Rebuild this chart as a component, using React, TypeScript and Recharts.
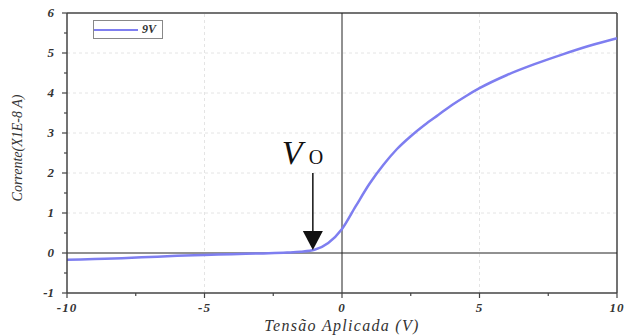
import { LineChart, Line, XAxis, YAxis, ReferenceLine, ReferenceDot, Legend } from "recharts";

const voltage = [-10, -9, -8, -7, -6, -5, -4, -3, -2, -1.5, -1, -0.5, 0, 0.5, 1, 1.5, 2, 2.5, 3, 3.5, 4, 4.5, 5, 6, 7, 8, 9, 10];
const current = [-0.17, -0.15, -0.13, -0.1, -0.07, -0.05, -0.03, -0.01, 0.01, 0.03, 0.08, 0.25, 0.6, 1.17, 1.73, 2.2, 2.6, 2.92, 3.2, 3.45, 3.7, 3.92, 4.12, 4.45, 4.72, 4.96, 5.18, 5.37];

const xMajor = [-10, -5, 0, 5, 10];
const xMinor = [-7.5, -2.5, 2.5, 7.5];
const yMajor = [-1, 0, 1, 2, 3, 4, 5, 6];
const yMinor = [-0.5, 0.5, 1.5, 2.5, 3.5, 4.5, 5.5];
const xGrid = [-5, 5];
const yGrid = [1, 2, 3, 4, 5];

const seriesName = "9V";
const vLabel = "V";
const vSub = "O";
const arrowAt = { x: -1.06, y: 0.075 };

const data = voltage.map((v, i) => ({ v, i: current[i] }));

const FONT = "Liberation Serif, Times New Roman, serif";
const AXIS = "#444";
const SERIES = "#7e7ef0";

const XTick = ({ x, y, payload }: any) => {
  const major = xMajor.includes(payload.value);
  return (
    <g>
      <line x1={x} x2={x} y1={y} y2={y + (major ? 5 : 3)} stroke={AXIS} strokeWidth={1.2} />
      {major && (
        <text x={x} y={y + 19} textAnchor="middle" fontFamily={FONT} fontStyle="italic" fontWeight="bold" fontSize={13} fill="#333" letterSpacing={1}>
          {payload.value}
        </text>
      )}
    </g>
  );
};

const YTick = ({ x, y, payload }: any) => {
  const major = yMajor.includes(payload.value);
  return (
    <g>
      <line x1={x} x2={x - (major ? 5 : 3)} y1={y} y2={y} stroke={AXIS} strokeWidth={1.2} />
      {major && (
        <text x={x - 13} y={y + 4} textAnchor="end" fontFamily={FONT} fontStyle="italic" fontWeight="bold" fontSize={13} fill="#333">
          {payload.value}
        </text>
      )}
    </g>
  );
};

const Arrow = ({ cx, cy }: any) => (
  <g>
    <text x={cx - 31} y={cy - 86} fontFamily={FONT} fontStyle="italic" fontSize={34} fill="#111">
      {vLabel}
    </text>
    <text x={cx - 4} y={cy - 86} fontFamily={FONT} fontSize={20} fill="#111">
      {vSub}
    </text>
    <line x1={cx} x2={cx} y1={cy - 77} y2={cy - 18} stroke="#111" strokeWidth={1.5} />
    <polygon points={`${cx - 10},${cy - 19} ${cx + 10},${cy - 19} ${cx},${cy}`} fill="#111" />
  </g>
);

const LegendBox = () => (
  <div style={{ border: "1px solid #888", width: 70, height: 19, display: "flex", alignItems: "center", boxSizing: "border-box", background: "#fff" }}>
    <svg width={44} height={16}>
      <line x1={0} x2={44} y1={8} y2={8} stroke={SERIES} strokeWidth={2} />
    </svg>
    <span style={{ fontFamily: FONT, fontStyle: "italic", fontWeight: "bold", fontSize: 12, color: "#333", marginLeft: 4 }}>{seriesName}</span>
  </div>
);

const XLabel = ({ viewBox }: any) => (
  <text
    x={viewBox.x + viewBox.width / 2}
    y={viewBox.y + viewBox.height - 5}
    textAnchor="middle"
    fontFamily={FONT}
    fontStyle="italic"
    fontSize={16}
    fill="#333"
    letterSpacing={1.3}
  >
    Tensão Aplicada (V)
  </text>
);

const YLabel = ({ viewBox }: any) => {
  const cx = viewBox.x + 19;
  const cy = viewBox.y + viewBox.height / 2 - 5;
  return (
    <text
      x={cx}
      y={cy}
      transform={`rotate(-90, ${cx}, ${cy})`}
      textAnchor="middle"
      dominantBaseline="middle"
      fontFamily={FONT}
      fontStyle="italic"
      fontSize={14}
      fill="#333"
    >
      Corrente(X1E-8 A)
    </text>
  );
};

export default function App() {
  return (
    <div style={{ position: "absolute", left: 0, top: 0, width: 627, height: 336, background: "#fff" }}>
      <LineChart width={627} height={336} data={data} margin={{ top: 13, right: 10, left: 0, bottom: 0 }}>
        <XAxis
          dataKey="v"
          type="number"
          domain={[-10, 10]}
          ticks={[...xMajor, ...xMinor].sort((a, b) => a - b)}
          interval={0}
          tick={<XTick />}
          tickLine={false}
          tickSize={0}
          tickMargin={0}
          height={43}
          stroke={AXIS}
          strokeWidth={1.5}
          label={<XLabel />}
        />
        <YAxis
          type="number"
          domain={[-1, 6]}
          ticks={[...yMajor, ...yMinor].sort((a, b) => a - b)}
          interval={0}
          tick={<YTick />}
          tickLine={false}
          tickSize={0}
          tickMargin={0}
          width={67}
          stroke={AXIS}
          strokeWidth={1.5}
          label={<YLabel />}
        />
        {yGrid.map((g) => (
          <ReferenceLine key={`gy${g}`} y={g} stroke="#e4e4e4" strokeDasharray="3 3" />
        ))}
        {xGrid.map((g) => (
          <ReferenceLine key={`gx${g}`} x={g} stroke="#e4e4e4" strokeDasharray="3 3" />
        ))}
        <ReferenceLine y={6} stroke={AXIS} strokeWidth={1.5} />
        <ReferenceLine x={10} stroke={AXIS} strokeWidth={1.5} />
        <ReferenceLine y={0} stroke="#222" strokeWidth={1} />
        <ReferenceLine x={0} stroke="#222" strokeWidth={1} />
        <Line type="monotone" dataKey="i" name={seriesName} stroke={SERIES} strokeWidth={2.5} dot={false} isAnimationActive={false} />
        <ReferenceDot x={arrowAt.x} y={arrowAt.y} r={0} shape={<Arrow />} />
        <Legend
          layout="horizontal"
          verticalAlign="middle"
          align="center"
          content={<LegendBox />}
          wrapperStyle={{ position: "absolute", left: 93, top: 20, width: "auto" }}
        />
      </LineChart>
    </div>
  );
}
